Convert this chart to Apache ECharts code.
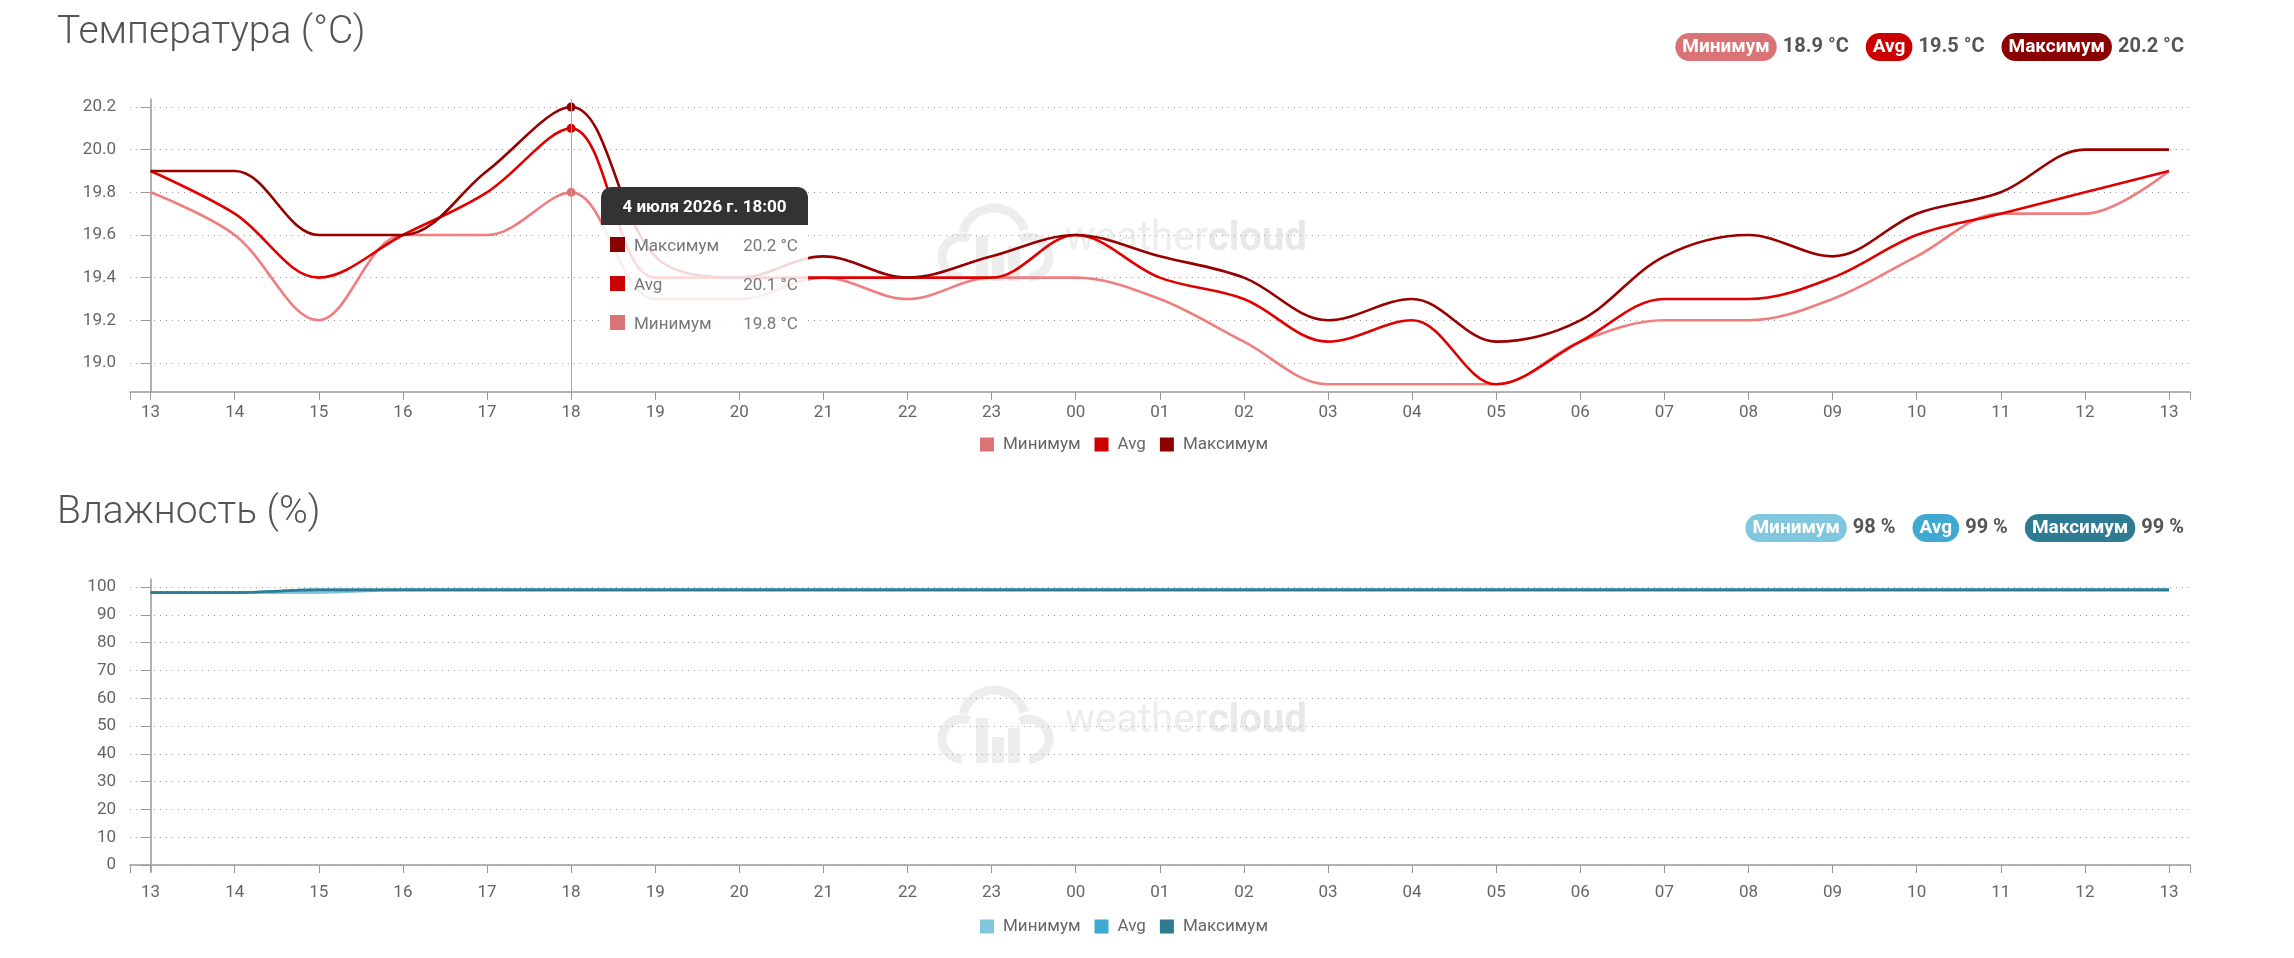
<!DOCTYPE html>
<html>
<head>
<meta charset="utf-8">
<title>Weathercloud</title>
<script src="https://cdn.jsdelivr.net/npm/echarts@6/dist/echarts.min.js"></script>
<style>
  html, body { margin: 0; padding: 0; background: #fff; }
  #main { width: 2294px; height: 958px; }
</style>
</head>
<body>
<div id="main"></div>
<script>
// часы по оси X
const hours = ['13', '14', '15', '16', '17', '18', '19', '20', '21', '22', '23', '00',
  '01', '02', '03', '04', '05', '06', '07', '08', '09', '10', '11', '12', '13'];

// температура, °C
const tempMin = [19.8, 19.6, 19.2, 19.6, 19.6, 19.8, 19.3, 19.3, 19.4, 19.3, 19.4, 19.4,
  19.3, 19.1, 18.9, 18.9, 18.9, 19.1, 19.2, 19.2, 19.3, 19.5, 19.7, 19.7, 19.9];
const tempAvg = [19.9, 19.7, 19.4, 19.6, 19.8, 20.1, 19.4, 19.4, 19.4, 19.4, 19.4, 19.6,
  19.4, 19.3, 19.1, 19.2, 18.9, 19.1, 19.3, 19.3, 19.4, 19.6, 19.7, 19.8, 19.9];
const tempMax = [19.9, 19.9, 19.6, 19.6, 19.9, 20.2, 19.5, 19.4, 19.5, 19.4, 19.5, 19.6,
  19.5, 19.4, 19.2, 19.3, 19.1, 19.2, 19.5, 19.6, 19.5, 19.7, 19.8, 20.0, 20.0];

// влажность, %
const humMin = [98, 98, 98, 99, 99, 99, 99, 99, 99, 99, 99, 99,
  99, 99, 99, 99, 99, 99, 99, 99, 99, 99, 99, 99, 99];
const humAvg = [98, 98, 99, 99, 99, 99, 99, 99, 99, 99, 99, 99,
  99, 99, 99, 99, 99, 99, 99, 99, 99, 99, 99, 99, 99];
const humMax = [98, 98, 99, 99, 99, 99, 99, 99, 99, 99, 99, 99,
  99, 99, 99, 99, 99, 99, 99, 99, 99, 99, 99, 99, 99];

const tempTicks = [19.0, 19.2, 19.4, 19.6, 19.8, 20.0, 20.2];
const humTicks = [0, 10, 20, 30, 40, 50, 60, 70, 80, 90, 100];

const names = ['Минимум', 'Avg', 'Максимум'];
const tempColors = ['#da7375', '#cc0000', '#8b0000'];
const humColors = ['#80c6dc', '#3fa9d1', '#2e7b93'];

const tooltipHour = 5; // 18:00
const font = 'Roboto';

function pairs(arr) {
  return arr.map((v, i) => [i, v]);
}
function mean(arr) {
  return arr.reduce((a, b) => a + b, 0) / arr.length;
}

const xMin = -0.245, xMax = 24.25;
const hourIdx = hours.map((h, i) => i);

function makeX(gridIndex) {
  return {
    type: 'value',
    gridIndex: gridIndex,
    min: xMin,
    max: xMax,
    axisLine: { lineStyle: { color: '#999', width: 1.5 } },
    axisTick: { customValues: [xMin].concat(hourIdx, [xMax]), length: 8, lineStyle: { color: '#999' } },
    axisLabel: {
      customValues: hourIdx,
      formatter: v => hours[Math.round(v)],
      color: '#666', fontSize: 17, fontFamily: font, margin: 12
    },
    splitLine: { show: false }
  };
}

function makeY(gridIndex, min, max, ticks, fmt) {
  return {
    type: 'value',
    gridIndex: gridIndex,
    min: min,
    max: max,
    axisLine: { show: true, lineStyle: { color: '#999', width: 1.5 } },
    axisTick: { show: true, customValues: ticks, length: 10, lineStyle: { color: '#999' } },
    axisLabel: { customValues: ticks, formatter: fmt, color: '#666', fontSize: 17, fontFamily: font, margin: 14 },
    splitLine: { show: true, lineStyle: { color: '#a0a0a0', width: 1, type: [1, 5] } }
  };
}

function makeSeries(name, data, color, idx) {
  return {
    name: name,
    type: 'line',
    xAxisIndex: idx,
    yAxisIndex: idx,
    data: pairs(data),
    smooth: 0.35,
    showSymbol: false,
    symbol: 'circle',
    symbolSize: 9,
    lineStyle: { width: 2.6, color: color },
    itemStyle: { color: color },
    emphasis: { scale: false, lineStyle: { width: 2.6 } }
  };
}

function badges(colors, values, unit, top) {
  const rich = {};
  colors.forEach((c, i) => {
    rich['p' + i] = {
      color: '#fff', backgroundColor: c, borderRadius: 14, padding: [5, 7, 4, 7],
      fontSize: 19, fontWeight: 'bold', fontFamily: font, lineHeight: 19
    };
  });
  rich.v = { color: '#555', fontSize: 20, fontWeight: 'bold', fontFamily: font, padding: [0, 17, 0, 6] };
  rich.vl = { color: '#555', fontSize: 20, fontWeight: 'bold', fontFamily: font, padding: [0, 0, 0, 6] };
  const text = names.map((n, i) =>
    '{p' + i + '|' + n + '}{' + (i === 2 ? 'vl' : 'v') + '|' + values[i] + ' ' + unit + '}').join('');
  return { text: text, right: 105, top: top, textStyle: { rich: rich } };
}

// логотип-водяной знак
function watermark(y) {
  const wm = '#ededed';
  const arcStyle = { fill: 'none', stroke: wm, lineWidth: 9 };
  return {
    type: 'group',
    x: 938,
    y: y,
    silent: true,
    children: [
      { type: 'arc', shape: { cx: 24, cy: 59, r: 20, startAngle: Math.PI * 0.5, endAngle: Math.PI * 1.62 }, style: arcStyle },
      { type: 'arc', shape: { cx: 56, cy: 42, r: 32, startAngle: Math.PI * 1.08, endAngle: Math.PI * 1.9 }, style: arcStyle },
      { type: 'arc', shape: { cx: 91, cy: 59, r: 20, startAngle: Math.PI * 1.35, endAngle: Math.PI * 2.5 }, style: arcStyle },
      { type: 'rect', shape: { x: 38, y: 38, width: 12, height: 45 }, style: { fill: wm } },
      { type: 'rect', shape: { x: 54, y: 57, width: 12, height: 26 }, style: { fill: wm } },
      { type: 'rect', shape: { x: 70, y: 48, width: 12, height: 35 }, style: { fill: wm } },
      {
        type: 'text', x: 127, y: 42,
        style: {
          text: '{a|weather}{b|cloud}', verticalAlign: 'middle',
          rich: {
            a: { fontSize: 40, fontFamily: font, fill: wm },
            b: { fontSize: 40, fontFamily: font, fontWeight: 'bold', fill: '#e8e8e8' }
          }
        }
      }
    ]
  };
}

const tempStats = [Math.min(...tempMin).toFixed(1), mean(tempAvg).toFixed(1), Math.max(...tempMax).toFixed(1)];
const humStats = [Math.min(...humMin).toFixed(0), mean(humAvg).toFixed(0), Math.max(...humMax).toFixed(0)];

const humNames = ['hMin', 'hAvg', 'hMax'];

const chart = echarts.init(document.getElementById('main'));

const option = {
  animation: false,
  backgroundColor: '#ffffff',
  textStyle: { fontFamily: font },
  title: [
    { text: 'Температура (°C)', left: 52, top: 9,
      textStyle: { fontSize: 39, fontWeight: 300, color: '#555', fontFamily: font } },
    badges(tempColors, tempStats, '°C', 32),
    { text: 'Влажность (%)', left: 52, top: 489,
      textStyle: { fontSize: 39, fontWeight: 300, color: '#555', fontFamily: font } },
    badges(humColors, humStats, '%', 513)
  ],
  legend: [
    {
      data: names, left: 975, top: 431, icon: 'rect', itemWidth: 14, itemHeight: 14, itemGap: 14,
      textStyle: { fontSize: 17, color: '#666', fontFamily: font, padding: [0, 0, 0, 4] }
    },
    {
      data: humNames, left: 975, top: 913, icon: 'rect', itemWidth: 14, itemHeight: 14, itemGap: 14,
      formatter: n => names[humNames.indexOf(n)],
      textStyle: { fontSize: 17, color: '#666', fontFamily: font, padding: [0, 0, 0, 4] }
    }
  ],
  grid: [
    { left: 130, right: 104, top: 99, height: 293 },
    { left: 130, right: 104, top: 579, height: 293 }
  ],
  xAxis: [makeX(0), makeX(1)],
  yAxis: [
    makeY(0, 18.864, 20.2375, tempTicks, v => v.toFixed(1)),
    makeY(1, -2.5, 102.9, humTicks, v => String(v))
  ],
  tooltip: {
    trigger: 'axis',
    triggerOn: 'none',
    alwaysShowContent: true,
    transitionDuration: 0,
    padding: 0,
    borderWidth: 0,
    backgroundColor: 'transparent',
    extraCssText: 'box-shadow:none;border-radius:0;',
    axisPointer: { type: 'line', lineStyle: { color: '#aaa', width: 1, type: 'solid' } },
    position: function (point) {
      return [point[0] + 30, 187];
    },
    formatter: function (params) {
      const i = params[0].value[0];
      const day = i <= 10 ? 4 : 5;
      const head = '<div style="background:#333;color:#fff;font:bold 17px Roboto;padding:0 16px;height:38px;line-height:38px;border-radius:10px 10px 0 0;text-align:center">' +
        day + ' июля 2026 г. ' + hours[i] + ':00</div>';
      const rows = params.slice().reverse().map(p =>
        '<div style="display:flex;align-items:center;height:39px;font:17px Roboto;color:#777">' +
        '<span style="display:inline-block;width:15px;height:15px;background:' + p.color + ';margin-right:9px"></span>' +
        '<span style="flex:1">' + p.seriesName + '</span>' +
        '<span style="margin-left:24px">' + p.value[1].toFixed(1) + ' °C</span></div>').join('');
      return '<div>' + head + '<div style="background:rgba(255,255,255,0.85);padding:0 10px 0 9px">' + rows + '</div></div>';
    }
  },
  graphic: [watermark(198), watermark(680)],
  series: [
    makeSeries(names[0], tempMin, tempColors[0], 0),
    makeSeries(names[1], tempAvg, tempColors[1], 0),
    makeSeries(names[2], tempMax, tempColors[2], 0),
    makeSeries(humNames[0], humMin, humColors[0], 1),
    makeSeries(humNames[1], humAvg, humColors[1], 1),
    makeSeries(humNames[2], humMax, humColors[2], 1)
  ]
};

chart.setOption(option);
chart.dispatchAction({ type: 'showTip', seriesIndex: 0, dataIndex: tooltipHour });
</script>
</body>
</html>
